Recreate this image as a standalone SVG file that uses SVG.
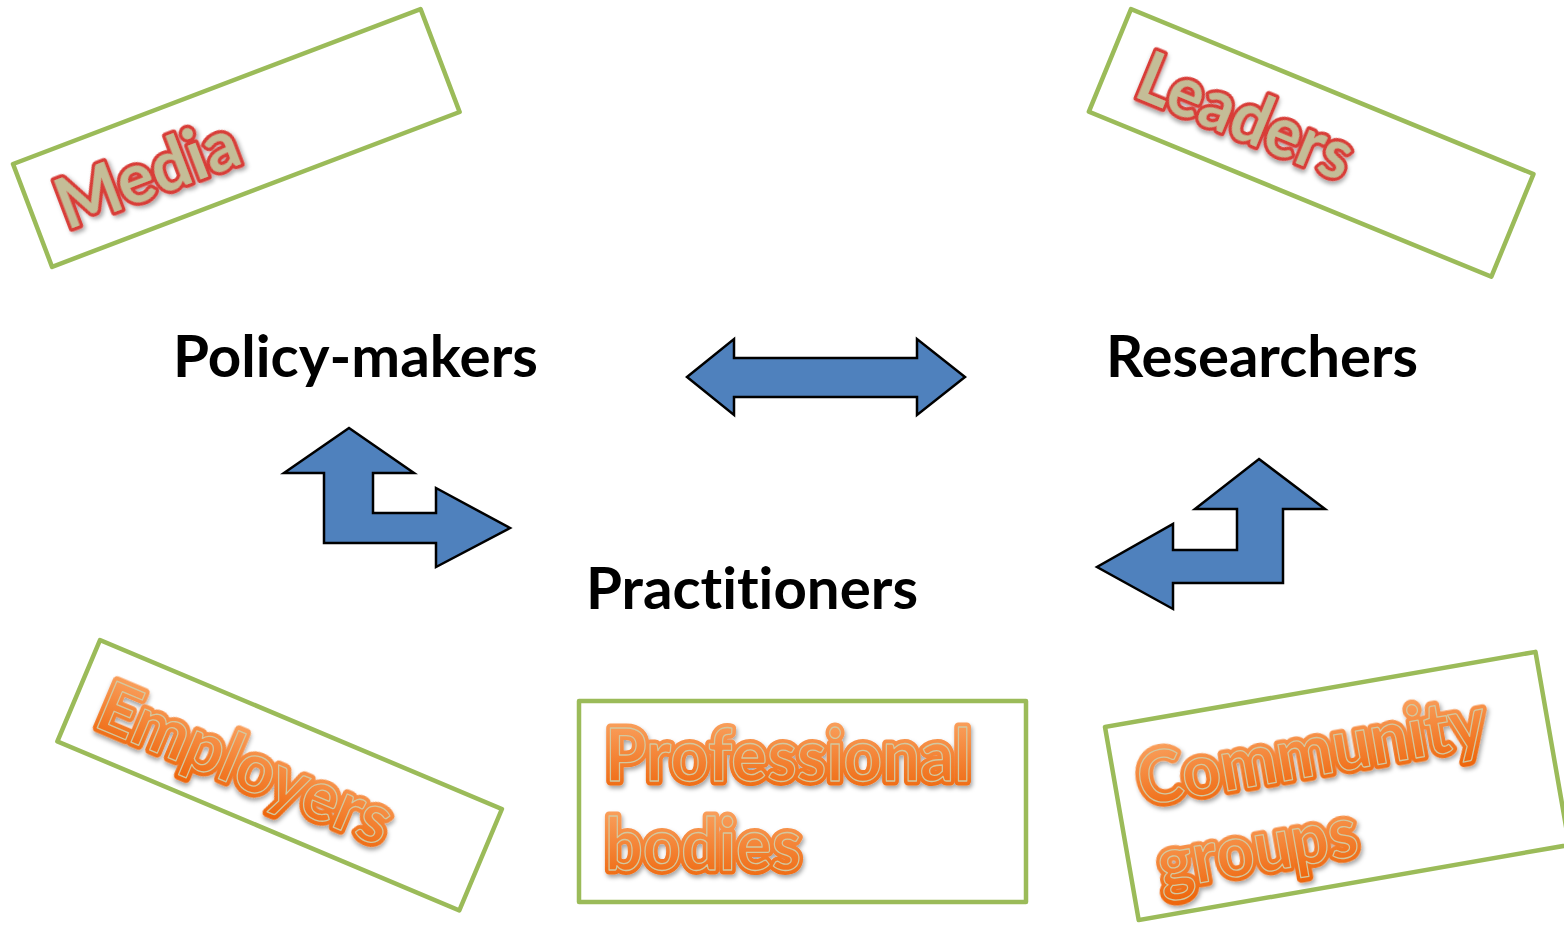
<svg xmlns="http://www.w3.org/2000/svg" xmlns:xlink="http://www.w3.org/1999/xlink" width="1564" height="925" viewBox="0 0 1564 925">
  <style>
    text { font-variant-ligatures: none; }
    .frame { fill: none; stroke: #9BBB59; stroke-width: 4.5; stroke-linejoin: round; }
    .arrow { fill: #4F81BD; stroke: #000; stroke-width: 2.5; stroke-linejoin: miter; }
    .role { font-family: Lato, "Open Sans", sans-serif; font-weight: 700; font-size: 58px; fill: #000; }
    .wa { font-family: Lato, "Open Sans", sans-serif; font-weight: 700; }
    .wa-red { fill: #C4BD97; stroke: #D83C37; stroke-width: 7; stroke-linejoin: round; paint-order: stroke; filter: url(#shadow); }
    .wa-o-back { fill: url(#orange); stroke: url(#orange); stroke-width: 9; stroke-linejoin: round; filter: url(#shadow); }
    .wa-o-front { fill: url(#orange); stroke: #D2C8A0; stroke-width: 1.3; stroke-linejoin: round; }
  </style>
  <defs>
    <filter id="shadow" x="-10%" y="-20%" width="120%" height="150%">
      <feDropShadow dx="1.5" dy="3" stdDeviation="2" flood-color="#000" flood-opacity="0.35"/>
    </filter>
    <linearGradient id="orange" x1="0" y1="0" x2="0" y2="1">
      <stop offset="0" stop-color="#FBA869"/>
      <stop offset="1" stop-color="#EE660C"/>
    </linearGradient>
    <!-- orange WordArt labels, drawn twice: thick halo + outlined face -->
    <text id="t-employers" class="wa" x="26" y="82" font-size="70" textLength="312" lengthAdjust="spacingAndGlyphs">Employers</text>
    <text id="t-prof1" class="wa" x="605" y="781" font-size="72" textLength="366" lengthAdjust="spacingAndGlyphs">Professional</text>
    <text id="t-prof2" class="wa" x="605" y="870" font-size="72" textLength="196" lengthAdjust="spacingAndGlyphs">bodies</text>
    <text id="t-comm1" class="wa" x="23" y="84" font-size="72" textLength="352" lengthAdjust="spacingAndGlyphs">Community</text>
    <text id="t-comm2" class="wa" x="28" y="170" font-size="72" textLength="202" lengthAdjust="spacingAndGlyphs">groups</text>
  </defs>

  <rect width="1564" height="925" fill="#fff"/>

  <!-- central roles -->
  <g id="policy-makers">
    <text class="role" x="173" y="377" textLength="365" lengthAdjust="spacingAndGlyphs">Policy-makers</text>
  </g>
  <g id="researchers">
    <text class="role" x="1106" y="377" textLength="312" lengthAdjust="spacingAndGlyphs">Researchers</text>
  </g>
  <g id="practitioners">
    <text class="role" x="586" y="609" textLength="332" lengthAdjust="spacingAndGlyphs">Practitioners</text>
  </g>

  <!-- surrounding influences -->
  <g id="media" transform="translate(13,164) rotate(-20.8)">
    <rect class="frame" x="0" y="0" width="436" height="110"/>
    <text class="wa wa-red" x="27" y="81" font-size="70" textLength="190" lengthAdjust="spacingAndGlyphs">Media</text>
  </g>
  <g id="leaders" transform="translate(1131,9) rotate(22.3)">
    <rect class="frame" x="0" y="0" width="435" height="111"/>
    <text class="wa wa-red" x="34" y="80" font-size="70" textLength="226" lengthAdjust="spacingAndGlyphs">Leaders</text>
  </g>
  <g id="employers" transform="translate(100,640) rotate(22.8)">
    <rect class="frame" x="0" y="0" width="436" height="110"/>
    <use xlink:href="#t-employers" class="wa-o-back"/>
    <use xlink:href="#t-employers" class="wa-o-front"/>
  </g>
  <g id="professional-bodies">
    <rect class="frame" x="579" y="701" width="447" height="201"/>
    <use xlink:href="#t-prof1" class="wa-o-back"/>
    <use xlink:href="#t-prof1" class="wa-o-front"/>
    <use xlink:href="#t-prof2" class="wa-o-back"/>
    <use xlink:href="#t-prof2" class="wa-o-front"/>
  </g>
  <g id="community-groups" transform="translate(1105,727) rotate(-9.9)">
    <rect class="frame" x="0" y="0" width="437" height="196"/>
    <use xlink:href="#t-comm1" class="wa-o-back"/>
    <use xlink:href="#t-comm1" class="wa-o-front"/>
    <use xlink:href="#t-comm2" class="wa-o-back"/>
    <use xlink:href="#t-comm2" class="wa-o-front"/>
  </g>

  <!-- exchange arrows between the roles -->
  <g id="connectors">
    <polygon class="arrow" points="687,377 734,339 734,358 917,358 917,339 965,377 917,415 917,397 734,397 734,415"/>
    <polygon class="arrow" points="349,428 414,473 373,473 373,513 436,513 436,488 510,528 436,567 436,543 324,543 324,473 284,473"/>
    <polygon class="arrow" points="1259,459 1325,509 1283,509 1283,583 1173,583 1173,609 1097,567 1173,524 1173,550 1237,550 1237,509 1195,509"/>
  </g>
</svg>
